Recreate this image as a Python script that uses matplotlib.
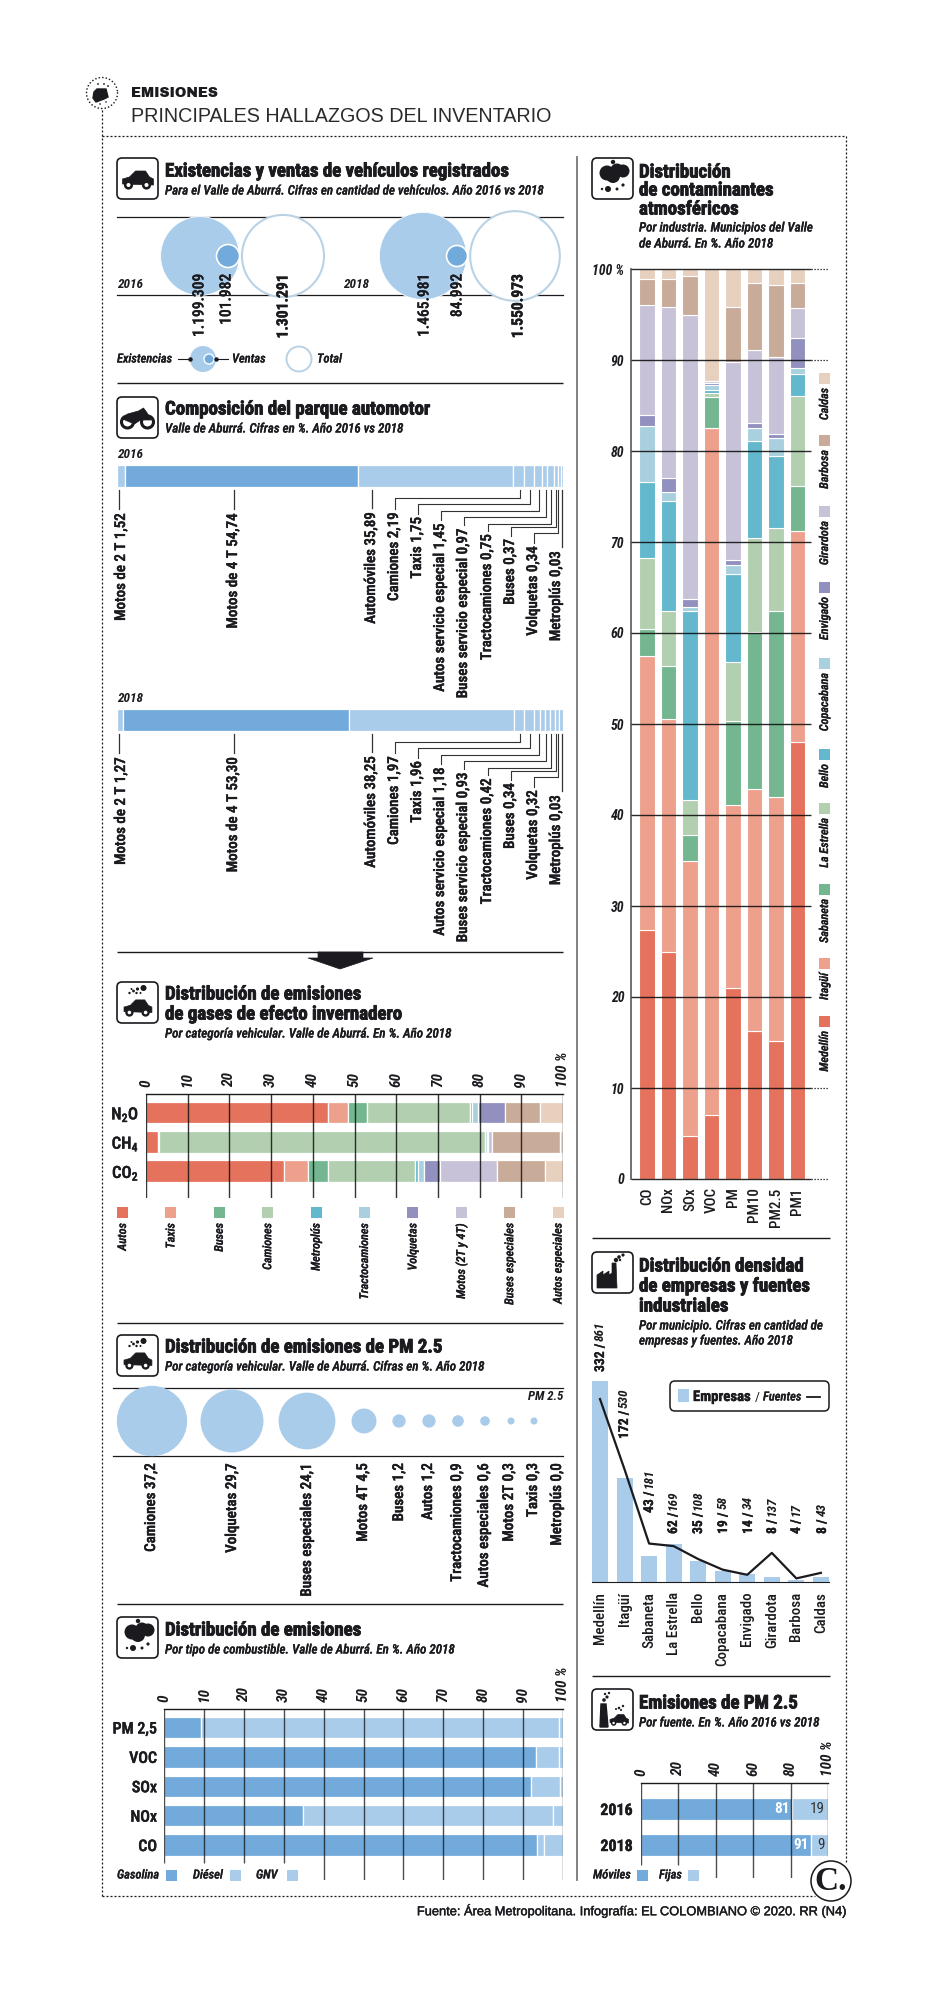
import numpy as np
import matplotlib
matplotlib.use('Agg')
import matplotlib.pyplot as plt
import matplotlib.patheffects as pe
from matplotlib.patches import Circle, Rectangle, FancyBboxPatch, Polygon

W, H = 938, 2000

# Existencias y ventas
exist_val = [1199309, 1465981]
ventas_val = [101982, 84992]
total_val = [1301291, 1550973]

# Composicion del parque (anchos leidos en la barra, no son proporcionales a la etiqueta)
parque_cat = ['Motos de 2 T', 'Motos de 4 T', 'Automóviles', 'Camiones', 'Taxis', 'Autos servicio especial',
              'Buses servicio especial', 'Tractocamiones', 'Buses', 'Volquetas', 'Metroplús']
parque_2016_txt = ['1,52', '54,74', '35,89', '2,19', '1,75', '1,45', '0,97', '0,75', '0,37', '0,34', '0,03']
parque_2018_txt = ['1,27', '53,30', '38,25', '1,97', '1,96', '1,18', '0,93', '0,42', '0,34', '0,32', '0,03']
parque_2016_ancho = [1.8, 52.0, 34.5, 2.5, 2.3, 1.8, 1.1, 1.4, 1.0, 0.6, 0.5]
parque_2018_ancho = [1.4, 50.5, 36.9, 2.2, 2.2, 1.4, 1.0, 1.1, 1.1, 0.9, 1.0]

# Gases de efecto invernadero
gei_cat = ['N$_2$O', 'CH$_4$', 'CO$_2$']
gei_series = ['Autos', 'Taxis', 'Buses', 'Camiones', 'Metroplús', 'Tractocamiones', 'Volquetas', 'Motos (2T y 4T)',
              'Buses especiales', 'Autos especiales']
gei_autos = [43.7, 2.9, 33.2]
gei_taxis = [4.8, 0.1, 5.7]
gei_buses = [4.4, 0.0, 4.7]
gei_camiones = [24.9, 78.4, 21.0]
gei_metro = [0.4, 0.0, 0.7]
gei_tracto = [1.4, 0.4, 1.3]
gei_volq = [6.4, 0.1, 4.0]
gei_motos = [0.0, 1.0, 13.6]
gei_busesesp = [8.6, 16.3, 11.6]
gei_autosesp = [5.4, 0.8, 4.2]
gei_colors = ['#E5725C', '#EDA18D', '#73B68F', '#B2CFB0', '#63B8CE', '#A8D0DF', '#9290BF', '#C8C2D9', '#C8AB98', '#E8D0BF']

# PM 2.5 por categoria
pm_cat = ['Camiones', 'Volquetas', 'Buses especiales', 'Motos 4T', 'Buses', 'Autos', 'Tractocamiones',
          'Autos especiales', 'Motos 2T', 'Taxis', 'Metroplús']
pm_val = [37.2, 29.7, 24.1, 4.5, 1.2, 1.2, 0.9, 0.6, 0.3, 0.3, 0.0]

# Combustible
comb_cat = ['PM 2,5', 'VOC', 'SOx', 'NOx', 'CO']
comb_gasolina = [9.2, 93.3, 92.0, 34.8, 93.5]
comb_diesel = [89.8, 5.7, 7.2, 62.7, 1.7]
comb_gnv = [1.0, 1.0, 0.8, 2.5, 4.8]

# Contaminantes atmosfericos
cont_cat = ['CO', 'NOx', 'SOx', 'VOC', 'PM', 'PM10', 'PM2.5', 'PM1']
cont_series = ['Medellín', 'Itagüí', 'Sabaneta', 'La Estrella', 'Bello', 'Copacabana', 'Envigado', 'Girardota',
               'Barbosa', 'Caldas']
cont_medellin = [27.4, 25.0, 4.7, 7.0, 21.0, 16.3, 15.2, 48.0]
cont_itagui = [30.1, 25.5, 30.2, 75.5, 20.1, 26.6, 26.8, 23.2]
cont_sabaneta = [2.9, 5.9, 2.9, 3.4, 9.2, 17.2, 20.4, 5.0]
cont_estrella = [7.8, 6.0, 3.8, 0.5, 6.5, 10.3, 9.1, 9.8]
cont_bello = [8.4, 12.1, 20.8, 0.3, 9.7, 10.7, 8.0, 2.5]
cont_copa = [6.2, 1.0, 0.5, 0.6, 1.0, 1.4, 1.9, 0.6]
cont_envigado = [1.2, 1.5, 0.8, 0.2, 0.5, 0.6, 0.5, 3.3]
cont_girardota = [12.0, 18.8, 31.3, 0.2, 21.8, 8.0, 8.4, 3.3]
cont_barbosa = [2.9, 3.1, 4.2, 0.0, 6.0, 7.4, 7.9, 2.8]
cont_caldas = [1.1, 1.1, 0.8, 12.3, 4.2, 1.5, 1.8, 1.5]

# Empresas y fuentes
mun_cat = ['Medellín', 'Itagüí', 'Sabaneta', 'La Estrella', 'Bello', 'Copacabana', 'Envigado', 'Girardota',
           'Barbosa', 'Caldas']
empresas = [332, 172, 43, 62, 35, 19, 14, 8, 4, 8]
fuentes = [861, 530, 181, 169, 108, 58, 34, 137, 17, 43]

# Emisiones PM 2.5 por fuente
fuente_anios = ['2016', '2018']
fuente_moviles = [81, 91]
fuente_fijas = [19, 9]

INK = '#1a1a1f'
DARK = '#72AADB'
LIGHT = '#AACCEB'
NARROW = ['Roboto Condensed', 'Liberation Sans']
SANS = ['Liberation Sans', 'DejaVu Sans']

fig = plt.figure(figsize=(W / 100, H / 100), dpi=100, facecolor='white')


def chart_ax(x0, y0, x1, y1):
    # ejes colocados en pixeles de la imagen
    ax = fig.add_axes([x0 / W, 1 - y1 / H, (x1 - x0) / W, (y1 - y0) / H])
    ax.patch.set_visible(False)
    for s in ax.spines.values():
        s.set_visible(False)
    ax.set_zorder(1)
    return ax


ov = fig.add_axes([0, 0, 1, 1])
ov.set_xlim(0, W)
ov.set_ylim(H, 0)
ov.axis('off')
ov.set_zorder(5)


def txt(x, y, s, size=10.5, weight=500, style='normal', rot=0, ha='left', va='center', color=INK, family=None,
        stroke=0.0, target=None):
    target = ov if target is None else target
    t = target.text(x, y, s, fontsize=size, fontweight=weight, fontstyle=style, rotation=rot, ha=ha, va=va,
                    color=color, family=family or NARROW)
    if stroke:
        t.set_path_effects([pe.withStroke(linewidth=stroke, foreground=color)])
    return t


def hline(y, x0, x1, lw=1.0, color=INK, ls='-'):
    ov.plot([x0, x1], [y, y], color=color, lw=lw, ls=ls, solid_capstyle='butt')


def title(x, ys, lines):
    for y, s in zip(ys, lines):
        txt(x, y + 1.5, s, size=13.6, weight=700, stroke=0.6)


def sub(x, ys, lines):
    for y, s in zip(ys, lines):
        txt(x, y + 1, s, size=9.4, weight=500, style='italic', stroke=0.2)


def box(x, y, w=41, h=41):
    ov.add_patch(FancyBboxPatch((x, y), w, h, boxstyle='round,pad=0,rounding_size=5', fc='white', ec=INK, lw=1.2))


def dots(cx, cy, pts):
    for dx, dy, r in pts:
        ov.add_patch(Circle((cx + dx, cy + dy), r, fc=INK, ec='none'))


def car(cx, cy, k=1.0):
    body = [(-15, 4), (-15, -1), (-8, -3), (-2, -9), (8, -9), (12, -3), (16, -1), (16, 5)]
    ov.add_patch(Polygon([(cx + a * k, cy + b * k) for a, b in body], fc=INK, ec=INK, lw=0.5))
    for dx in (-9, 9):
        ov.add_patch(Circle((cx + dx * k, cy + 5 * k), 4.6 * k, fc=INK, ec='none'))
        ov.add_patch(Circle((cx + dx * k, cy + 5 * k), 2.0 * k, fc='white', ec='none'))


def moto(cx, cy):
    for dx in (-10, 10):
        ov.add_patch(Circle((cx + dx, cy + 5), 6, fc='white', ec=INK, lw=2.2))
    ov.add_patch(Polygon([(cx - 15, cy + 2), (cx - 10, cy - 3), (cx + 1, cy - 6), (cx + 6, cy - 9), (cx + 9, cy - 5),
                          (cx + 14, cy + 3), (cx + 3, cy + 3), (cx - 3, cy + 7)], fc=INK, ec=INK, lw=0.5))


def nube(cx, cy):
    dots(cx, cy, [(-7, -1, 7.5), (3, -4, 6.5), (9, -3, 6.5), (-1, 2, 7), (-1, -12, 2.2), (-12, 15, 1.2), (-6, 15, 3),
                  (3, 15, 1.5), (9, 11, 1.6)])


def fabrica(cx, cy):
    ov.add_patch(Polygon([(cx - 15, cy + 16), (cx - 15, cy + 3), (cx - 9, cy - 1), (cx - 9, cy + 3), (cx - 3, cy - 1),
                          (cx - 3, cy + 3), (cx, cy + 1), (cx, cy - 9), (cx + 4, cy - 9), (cx + 5, cy + 16)],
                         fc=INK, ec=INK, lw=0.5))
    dots(cx, cy, [(4, -12, 2.2), (7, -15, 1.8), (11, -17, 1.6), (8, -12, 1.2)])


# --- Cabecera ---
for ang in np.arange(0, 360, 13):
    ov.add_patch(Circle((102 + 15.5 * np.cos(np.radians(ang)), 93 + 15.5 * np.sin(np.radians(ang))), 0.8, fc=INK, ec='none'))
ov.add_patch(Polygon([(94, 92), (97, 89), (106, 89), (108, 97), (104, 99), (96, 102), (93, 98)], fc=INK, ec=INK))
dots(102, 93, [(-4, -9, 0.9), (2, -9, 0.9), (6, -7, 0.9), (-2, 11, 0.8), (4, 9, 0.8)])
txt(131, 93, 'EMISIONES', size=10, weight=400, family=['Archivo Black', 'Liberation Sans'])
txt(131, 117, 'PRINCIPALES HALLAZGOS DEL INVENTARIO', size=14.25, weight=400, family=SANS, color='#2a2a2a')
ls_box = (0, (1.6, 1.6))
ov.plot([102, 102], [110, 1896], color=INK, lw=0.9, ls=ls_box)
ov.plot([102, 846], [136, 136], color=INK, lw=0.9, ls=ls_box)
ov.plot([846, 846], [136, 1862], color=INK, lw=0.9, ls=ls_box)
ov.plot([102, 815], [1896, 1896], color=INK, lw=0.9, ls=ls_box)
ov.plot([577, 577], [157, 1880], color='#777777', lw=1.3)
txt(847, 1911, 'Fuente: Área Metropolitana. Infografía: EL COLOMBIANO © 2020. RR (N4)', size=9.25, weight=400, ha='right',
    family=SANS, stroke=0.3)

# --- Existencias y ventas ---
box(117, 158)
car(137.5, 180)
title(165, [170], ['Existencias y ventas de vehículos registrados'])
sub(165, [190], ['Para el Valle de Aburrá. Cifras en cantidad de vehículos. Año 2016 vs 2018'])
hline(383, 117, 563)

ax = chart_ax(117, 217, 563, 295)
ax.set_xlim(117, 563)
ax.set_ylim(295, 217)
ax.set_xticks([])
ax.set_yticks([])
for s in ('top', 'bottom'):
    ax.spines[s].set_visible(True)
    ax.spines[s].set_linewidth(0.9)
    ax.spines[s].set_color(INK)
k_r = 0.036
cx_ex, cx_ve, cx_to = [200, 423], [228, 457], [283, 515]
for i in range(2):
    ax.add_patch(Circle((cx_ex[i], 256), k_r * np.sqrt(exist_val[i]), fc=LIGHT, ec='white', lw=0.6, zorder=3, clip_on=False))
    ax.add_patch(Circle((cx_ve[i], 256), k_r * np.sqrt(ventas_val[i]), fc=DARK, ec='white', lw=1.2, zorder=4, clip_on=False))
    ax.add_patch(Circle((cx_to[i], 256), k_r * np.sqrt(total_val[i]), fc='white', ec='#BAD2E4', lw=1.5, zorder=3, clip_on=False))
num = lambda v: f'{v:,}'.replace(',', '.')
for i, yr in enumerate(['2016', '2018']):
    txt([117, 343][i], 285, yr, size=9.5, weight=700, style='italic')
    txt([199, 424][i], 274, num(exist_val[i]), size=11.2, weight=500, rot=90, ha='center', va='top', stroke=0.2)
    txt([226, 457][i], 274, num(ventas_val[i]), size=11.2, weight=500, rot=90, ha='center', va='top', stroke=0.2)
    txt([283, 518][i], 274, num(total_val[i]), size=11.2, weight=700, rot=90, ha='center', va='top', stroke=0.3)
# leyenda
txt(117, 359, 'Existencias', size=9, style='italic', stroke=0.2)
ov.add_patch(Circle((203, 359), 13, fc=LIGHT, ec='none'))
ov.add_patch(Circle((209, 359), 5, fc=DARK, ec='white', lw=1))
ov.plot([178, 190], [359, 359], color=INK, lw=0.8, marker='o', ms=2.2, markevery=[1])
ov.plot([216, 228], [359, 359], color=INK, lw=0.8, marker='o', ms=2.2, markevery=[0])
txt(232, 359, 'Ventas', size=9, style='italic', stroke=0.2)
ov.add_patch(Circle((299, 359), 12.5, fc='white', ec='#BAD2E4', lw=1.4))
txt(317, 359, 'Total', size=9, style='italic', stroke=0.2)

# --- Composicion del parque ---
box(117, 397)
moto(137.5, 417)
title(165, [408], ['Composición del parque automotor'])
sub(165, [428], ['Valle de Aburrá. Cifras en %. Año 2016 vs 2018'])
label_x = [121, 233, 371, 394, 417, 440, 463, 487, 510, 533, 556]
label_top = [513, 513, 512, 512, 517, 523, 528, 534, 539, 546, 551]
stem_x = [119, 234, 372, 520, 530, 539, 546, 551, 556, 558, 562]
elbow_y = [None, None, None, 498, 504, 511, 517, 524, 527, 533, None]
elbow_x = [None, None, None, 395, 418, 441, 464, 488, 511, 534, None]
for bar_top, anios, anchos, textos in [(465, '2016', parque_2016_ancho, parque_2016_txt),
                                       (709, '2018', parque_2018_ancho, parque_2018_txt)]:
    dy = bar_top - 465
    txt(117, bar_top - 10, anios, size=9.5, weight=700, style='italic')
    ax = chart_ax(117, bar_top, 563, bar_top + 22)
    ax.set_xlim(0, sum(anchos))
    ax.set_ylim(-0.5, 0.5)
    ax.axis('off')
    left = 0
    for j, w in enumerate(anchos):
        ax.barh(0, w, left=left, height=1, color=DARK if j == 1 else LIGHT, edgecolor='white', linewidth=0.9)
        left += w
    for j, cat in enumerate(parque_cat):
        txt(label_x[j], label_top[j] + dy, f'{cat} {textos[j]}', size=10.8, weight=500, rot=90, ha='center', va='top',
            stroke=0.3)
        if elbow_y[j] is None:
            ov.plot([stem_x[j]] * 2, [490 + dy, label_top[j] + dy - 4], color='#333333', lw=0.9)
        else:
            ov.plot([stem_x[j], stem_x[j], elbow_x[j], elbow_x[j]],
                    [490 + dy, elbow_y[j] + dy, elbow_y[j] + dy, label_top[j] + dy - 3], color='#333333', lw=0.8)

# --- Gases de efecto invernadero ---
hline(952, 117, 563)
ov.add_patch(Polygon([(318, 952), (363, 952), (363, 958), (373, 958), (340, 969), (308, 958), (318, 958)], fc=INK, ec=INK, lw=0.5))
box(117, 982)
car(137.5, 1008, 0.9)
dots(137.5, 1002, [(6, -14, 3), (0, -13, 1.6), (-4, -11, 1.4), (-8, -9, 1.2), (-1, -9, 1.2), (-6, -13, 1), (3, -9, 1)])
title(165, [993, 1013], ['Distribución de emisiones', 'de gases de efecto invernadero'])
sub(165, [1033], ['Por categoría vehicular. Valle de Aburrá. En %. Año 2018'])


def top_ticks(ax, ticks, size=11):
    ax.xaxis.tick_top()
    ax.set_xticks(ticks)
    ax.set_xticklabels([f'{v}' if v < 100 else '100 %' for v in ticks], rotation=90, fontsize=size, fontstyle='italic',
                       fontweight=700, family=NARROW, color=INK)
    ax.tick_params(axis='x', length=0, pad=5)


def hbar_base(ax, cats, size=11.5, pad=5):
    ax.set_yticks(range(len(cats)))
    ax.set_yticklabels(cats, fontsize=size, fontweight=500, family=NARROW, color=INK)
    ax.tick_params(axis='y', length=0, pad=pad)
    for l in ax.get_yticklabels():
        l.set_path_effects([pe.withStroke(linewidth=0.3, foreground=INK)])
    ax.spines['top'].set_visible(True)
    ax.spines['top'].set_color(INK)
    ax.spines['top'].set_linewidth(1.0)
    ax.set_xlim(0, 100)


plt.rcParams['mathtext.default'] = 'regular'
ax = chart_ax(146, 1094, 563, 1198)
ax.set_ylim(2.92, -0.632)
hbar_base(ax, gei_cat, size=12, pad=5)
top_ticks(ax, list(range(0, 101, 10)))
gei_all = [gei_autos, gei_taxis, gei_buses, gei_camiones, gei_metro, gei_tracto, gei_volq, gei_motos, gei_busesesp, gei_autosesp]
izq = np.zeros(3)
for serie, col in zip(gei_all, gei_colors):
    for r in range(3):
        if serie[r] > 0:
            ax.barh(r, serie[r], left=izq[r], height=0.735, color=col, edgecolor='white', linewidth=0.9, zorder=1)
    izq += np.array(serie)
ax.vlines(range(0, 101, 10), 2.92, -0.632, color='#111111', lw=1.0, alpha=0.85, zorder=3)
for i, nom in enumerate(gei_series):
    xs = 117 + i * 48.4
    ov.add_patch(Rectangle((xs, 1207), 11, 11, fc=gei_colors[i], ec='none'))
    txt(xs + 5.5, 1223, nom, size=8.8, weight=500, style='italic', rot=90, ha='center', va='top', stroke=0.2)
hline(1323, 117, 563)

# --- PM 2.5 por categoria ---
box(117, 1335)
car(137.5, 1361, 0.9)
dots(137.5, 1355, [(6, -14, 3), (0, -13, 1.6), (-4, -11, 1.4), (-8, -9, 1.2), (-1, -9, 1.2), (-6, -13, 1), (3, -9, 1)])
title(165, [1346], ['Distribución de emisiones de PM 2.5'])
sub(165, [1366], ['Por categoría vehicular. Valle de Aburrá. Cifras en %. Año 2018'])
ax = chart_ax(113, 1388, 563, 1456)
ax.set_xlim(113, 563)
ax.set_ylim(1456, 1388)
ax.set_xticks([])
ax.set_yticks([])
for s in ('top', 'bottom'):
    ax.spines[s].set_visible(True)
    ax.spines[s].set_linewidth(0.9)
    ax.spines[s].set_color(INK)
pm_cx = [152, 232, 307, 364, 399, 429, 458, 485, 511, 534, 557]
pm_lx = [151, 232, 307, 363, 399, 428, 457, 484, 509, 533, 557]
for i, v in enumerate(pm_val):
    if v > 0:
        ax.add_patch(Circle((pm_cx[i], 1421), 5.7 * np.sqrt(v) + 0.4, fc=LIGHT, ec='none', zorder=3, clip_on=False))
    txt(pm_lx[i], 1463, f'{pm_cat[i]} {str(v).replace(".", ",")}', size=10.8, weight=500, rot=90, ha='center', va='top',
        stroke=0.3)
txt(563, 1397, 'PM 2.5', size=9.2, weight=700, style='italic', ha='right')
hline(1604, 117, 563)

# --- Combustible ---
box(117, 1617)
nube(139, 1633)
title(165, [1629], ['Distribución de emisiones'])
sub(165, [1649], ['Por tipo de combustible. Valle de Aburrá. En %. Año 2018'])
ax = chart_ax(164, 1709, 563, 1880)
ax.set_ylim(5.19, -0.63)
hbar_base(ax, comb_cat, size=11.5, pad=5)
top_ticks(ax, list(range(0, 101, 10)))
ax.barh(range(5), comb_gasolina, height=0.73, color=DARK, edgecolor='white', linewidth=0.9)
ax.barh(range(5), comb_diesel, left=comb_gasolina, height=0.73, color=LIGHT, edgecolor='white', linewidth=0.9)
ax.barh(range(5), comb_gnv, left=np.add(comb_gasolina, comb_diesel), height=0.73, color=LIGHT, edgecolor='white', linewidth=0.9)
for t in range(0, 101, 10):
    ax.vlines(t, 4.61 if t <= 30 else 5.19, -0.63, color='#111111', lw=1.0, alpha=0.75, zorder=3)
for x0, nom, xsw in [(117, 'Gasolina', 166), (193, 'Diésel', 230), (256, 'GNV', 287)]:
    txt(x0, 1875, nom, size=9, style='italic', stroke=0.2)
    ov.add_patch(Rectangle((xsw, 1870), 11, 11, fc=DARK if nom == 'Gasolina' else LIGHT, ec='none'))

# --- Contaminantes ---
box(592, 158)
nube(614, 174)
title(639, [171, 189, 208], ['Distribución', 'de contaminantes', 'atmosféricos'])
sub(639, [227, 243], ['Por industria. Municipios del Valle', 'de Aburrá. En %. Año 2018'])
ax = chart_ax(631, 269, 811, 1179)
ax.set_xlim(-0.744, 7.63)
ax.set_ylim(0, 100)
cont_all = [cont_medellin, cont_itagui, cont_sabaneta, cont_estrella, cont_bello, cont_copa, cont_envigado,
            cont_girardota, cont_barbosa, cont_caldas]
abajo = np.zeros(8)
for serie, col in zip(cont_all, gei_colors):
    ax.bar(range(8), serie, bottom=abajo, width=0.74, color=col, edgecolor='white', linewidth=0.8, zorder=1)
    abajo += np.array(serie)
ax.set_xticks(range(8))
ax.set_xticklabels(cont_cat, rotation=90, fontsize=10.8, fontweight=500, family=NARROW, color=INK)
ax.tick_params(axis='x', length=0, pad=6)
ax.set_yticks(range(0, 101, 10))
ax.set_yticklabels([f'{v}' if v < 100 else '100 %' for v in range(0, 101, 10)], fontsize=10, fontweight=700,
                   fontstyle='italic', family=NARROW, color=INK)
ax.tick_params(axis='y', length=0, pad=5)
ax.spines['left'].set_visible(True)
ax.spines['left'].set_color('#666666')
ax.spines['left'].set_linewidth(1.3)
ax.hlines(range(0, 101, 10), -0.744, 7.63, color='#111111', lw=1.0, alpha=0.9, zorder=3, clip_on=False)
ax.hlines([0, 10, 90, 100], 7.63, 8.47, color='#111111', lw=0.9, ls=(0, (1, 1.4)), clip_on=False)
ley_y = [1016, 958, 884, 803, 749, 658, 582, 506, 435, 373]
for nom, col, yy in zip(cont_series, gei_colors, ley_y):
    ov.add_patch(Rectangle((819, yy), 11, 11, fc=col, ec='none'))
    txt(824.5, yy + 15, nom, size=8.8, style='italic', rot=90, ha='center', va='top', stroke=0.2)
hline(1238, 592, 830)

# --- Empresas y fuentes ---
box(592, 1252)
fabrica(612, 1272)
title(639, [1265, 1285, 1305], ['Distribución densidad', 'de empresas y fuentes', 'industriales'])
sub(639, [1325, 1340], ['Por municipio. Cifras en cantidad de', 'empresas y fuentes. Año 2018'])
ax = chart_ax(592, 1340, 829, 1582)
ax.set_xlim(-0.326, 9.33)
ax.set_ylim(0, 400)
ax.bar(range(10), empresas, width=0.65, color=LIGHT)
ax.set_xticks(range(10))
ax.set_xticklabels(mun_cat, rotation=90, fontsize=10.8, fontweight=500, family=NARROW, color=INK)
ax.tick_params(axis='x', length=0, pad=7)
ax.set_yticks([])
ax.spines['bottom'].set_visible(True)
ax.spines['bottom'].set_color(INK)
ax2 = ax.twinx()
ax2.patch.set_visible(False)
for s in ax2.spines.values():
    s.set_visible(False)
ax2.set_ylim(0, 1139)
ax2.set_yticks([])
ax2.plot(range(10), fuentes, color=INK, lw=1.6)
etq_x = [600, 624, 649, 673, 698, 723, 748, 772, 796, 822]
etq_y = [1372, 1439, 1513, 1534, 1534, 1534, 1534, 1534, 1534, 1534]
rend = fig.canvas.get_renderer()
for i in range(10):
    t1 = txt(etq_x[i], etq_y[i], f'{empresas[i]} / ', size=9.8, weight=700, rot=90, ha='center', va='bottom', stroke=0.2)
    h1 = t1.get_window_extent(rend).height
    txt(etq_x[i], etq_y[i] - h1, f'{fuentes[i]}', size=9.5, weight=700, style='italic', rot=90, ha='center', va='bottom')
ov.add_patch(FancyBboxPatch((670, 1381), 159, 30, boxstyle='round,pad=0,rounding_size=5', fc='white', ec=INK, lw=1.1))
ov.add_patch(Rectangle((678, 1389), 11, 13, fc=LIGHT, ec='none'))
txt(693, 1397, 'Empresas', size=10.6, weight=700, stroke=0.3)
txt(755, 1397, '/', size=9.6, weight=400)
txt(763, 1397, 'Fuentes', size=9, style='italic', stroke=0.2)
ov.plot([807, 820], [1397, 1397], color=INK, lw=1.3)
hline(1676, 592, 830)

# --- PM 2.5 por fuente ---
box(592, 1689)
ov.add_patch(Polygon([(600, 1727), (601, 1704), (606, 1704), (608, 1727)], fc=INK, ec=INK))
dots(604, 1700, [(0, 0, 1.8), (3, -3, 1.6), (1, -6, 1.2), (5, -7, 1.2)])
car(619, 1720, 0.6)
dots(619, 1708, [(0, 0, 1.3), (4, -2, 1.2), (-3, 1, 1), (2, 2, 1)])
title(639, [1702], ['Emisiones de PM 2.5'])
sub(639, [1722], ['Por fuente. En %. Año 2016 vs 2018'])
ax = chart_ax(641, 1783, 828, 1878)
ax.set_ylim(1.917, -0.722)
hbar_base(ax, fuente_anios, size=11.5, pad=6)
for l in ax.get_yticklabels():
    l.set_fontweight(700)
top_ticks(ax, [0, 20, 40, 60, 80, 100])
ax.barh(range(2), fuente_moviles, height=0.61, color=DARK, edgecolor='white', linewidth=0.9)
ax.barh(range(2), fuente_fijas, left=fuente_moviles, height=0.61, color=LIGHT, edgecolor='white', linewidth=0.9)
for t in [0, 20, 40, 60, 80, 100]:
    ax.vlines(t, {0: 1.56, 20: 1.56, 100: 1.3}.get(t, 1.917), -0.722, color='#111111', lw=1.0, alpha=0.75, zorder=3)
for r in range(2):
    ax.text(fuente_moviles[r] - 1.2, r, str(fuente_moviles[r]), color='white', fontsize=11, fontweight=700, family=NARROW,
            ha='right', va='center', zorder=4)
    ax.text(98, r, str(fuente_fijas[r]), color='#333333', fontsize=11, fontweight=400, family=NARROW, ha='right',
            va='center', zorder=4)
txt(593, 1875, 'Móviles', size=9, style='italic', stroke=0.2)
ov.add_patch(Rectangle((637, 1870), 11, 11, fc=DARK, ec='none'))
txt(659, 1875, 'Fijas', size=9, style='italic', stroke=0.2)
ov.add_patch(Rectangle((688, 1870), 11, 11, fc=LIGHT, ec='none'))

# logo
ov.add_patch(Circle((831, 1881), 20, fc='white', ec=INK, lw=1.1, zorder=6))
txt(831, 1881, 'C.', size=24, weight=700, family=['Liberation Serif', 'DejaVu Serif'], ha='center', va='center').set_zorder(7)

fig.savefig('out.png', dpi=100)
